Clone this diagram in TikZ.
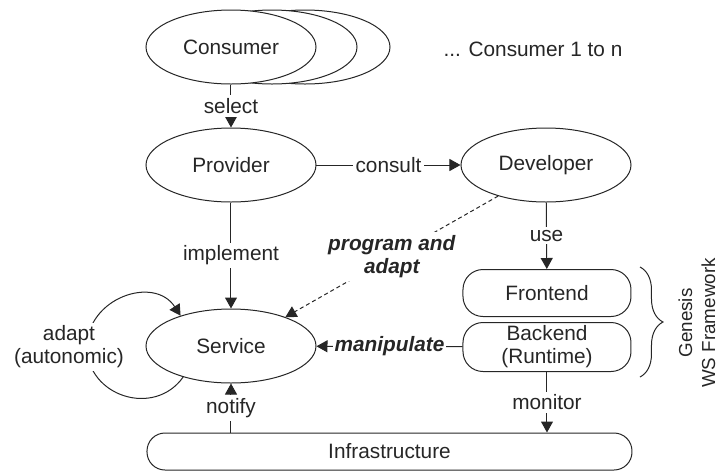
\documentclass[tikz,border=0pt]{standalone}
\usepackage{fontspec}
\setmainfont{Liberation Sans}
\usetikzlibrary{arrows.meta,shapes.geometric,decorations.pathreplacing}

\newcommand{\figfont}{\fontsize{10.4}{11.5}\selectfont}

\begin{document}
\begin{tikzpicture}[x=0.5pt, y=-0.5pt, line width=0.5pt, color=black!85,
    font=\figfont,
    actor/.style={ellipse, draw, fill=white, minimum width=85pt, minimum height=37pt, inner sep=0pt},
    part/.style={draw, rounded corners=10pt, minimum width=84pt, minimum height=23.5pt, inner sep=0pt, align=center},
    lbl/.style={fill=white, inner sep=1.5pt, align=center},
    strong/.style={font=\figfont\bfseries\itshape},
    arr/.style={-{Triangle[length=5.5pt, width=6pt]}}
    ]
    \useasboundingbox (0,0) rectangle (720,473);

    % consumers, drawn back to front
    \node[actor] (cons3) at (305,47) {};
    \node[actor] (cons2) at (272,47) {};
    \node[actor] (cons) at (231,47) {Consumer};
    \node (many) at (533,49) {... Consumer 1 to n};

    \node[actor] (prov) at (231,165) {Provider};
    \node[actor] (dev) at (546,165) {Developer};
    \node[actor] (svc) at (231,346) {Service};

    \node[part] (front) at (547,293) {Frontend};
    \node[part, minimum height=24.5pt] (back) at (547,347) {Backend\\(Runtime)};
    \node[part, rounded corners=9pt, minimum width=242.5pt, minimum height=18.5pt] (infra) at (389.5,451.5) {Infrastructure};

    \draw[arr] (cons) -- node[lbl] {select} (prov);
    \draw[arr] (prov) -- node[lbl] {consult} (dev);
    \draw[arr] (prov) -- node[lbl] {implement} (svc);
    \draw[arr] (dev) -- node[lbl] {use} (front);
    \draw[arr, dash pattern=on 2pt off 1.5pt] (dev.213) -- node[lbl, strong] {program and\\adapt} (svc.28);
    \draw[arr] (back) -- node[lbl, strong, inner sep=1pt] {manipulate} (svc);
    \draw[arr] (back.south) -- node[lbl] {monitor} (back.south |- infra.north);
    \draw[arr] (infra.north -| svc) -- node[lbl] {notify} (svc.south);

    % self adaptation loop
    \coordinate (loopleft) at (87,347);
    \draw[arr] (svc.213) .. controls (154,418) and (87,396) .. (loopleft)
      .. controls (87,298) and (154,275) .. (svc.149);
    \node[lbl] (selfadapt) at (69,347) {adapt\\(autonomic)};

    % framework brace
    \coordinate (brtop) at (640,267);
    \coordinate (brbot) at (640,377);
    \draw[decorate, decoration={brace, amplitude=11.5pt}] (brtop) -- (brbot);
    \node[rotate=90, align=center, font=\fontsize{9.4}{11.5}\selectfont] (genesis) at (697,323) {Genesis\\WS Framework};
  \end{tikzpicture}
\end{document}
